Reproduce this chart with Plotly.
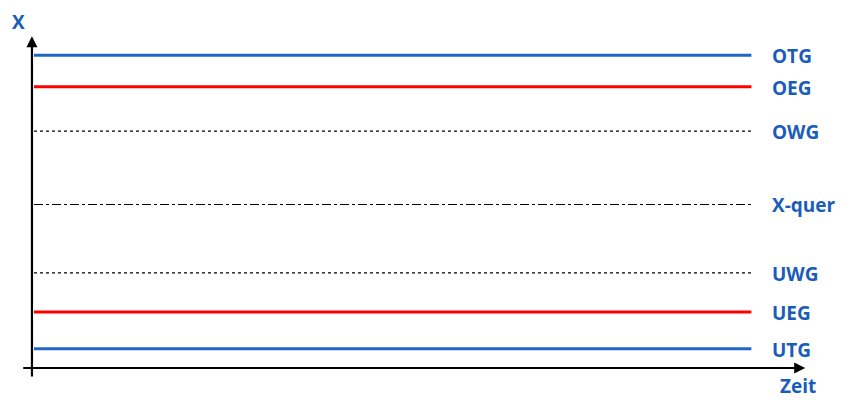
import plotly.graph_objects as go

# Data
labels = ["OTG", "OEG", "OWG", "X-quer", "UWG", "UEG", "UTG"]
levels = [94.8, 85.2, 71.8, 49.55, 28.8, 17, 5.8]
time_span = [0, 100]

styles = {
    "OTG": dict(color="#1F66C8", width=3, dash="solid"),
    "OEG": dict(color="#FF0000", width=3, dash="solid"),
    "OWG": dict(color="#000000", width=1.2, dash="dot"),
    "X-quer": dict(color="#000000", width=1.2, dash="dashdot"),
    "UWG": dict(color="#000000", width=1.2, dash="dot"),
    "UEG": dict(color="#FF0000", width=3, dash="solid"),
    "UTG": dict(color="#1F66C8", width=3, dash="solid"),
}

text_blue = "#1A5DB8"
font_family = "Open Sans, Liberation Sans, Arial, sans-serif"

fig = go.Figure()
for lab, lv in zip(labels, levels):
    fig.add_trace(go.Scatter(x=time_span, y=[lv, lv], mode="lines",
                             line=styles[lab], showlegend=False, hoverinfo="skip"))

annotations = []
for lab, lv in zip(labels, levels):
    annotations.append(dict(x=102.6, y=lv, xref="x", yref="y", text=f"<b>{lab}</b>",
                            showarrow=False, xanchor="left", yanchor="middle", yshift=-1,
                            font=dict(size=19, color=text_blue, family=font_family)))

# axes as arrows
annotations.append(dict(x=-0.28, y=100.5, ax=-0.28, ay=-3, xref="x", yref="y", axref="x", ayref="y",
                        showarrow=True, arrowhead=2, arrowsize=1, arrowwidth=2.2, arrowcolor="black", text=""))
annotations.append(dict(x=107.5, y=0, ax=-1.7, ay=0, xref="x", yref="y", axref="x", ayref="y",
                        showarrow=True, arrowhead=2, arrowsize=1, arrowwidth=2.2, arrowcolor="black", text=""))
# axis titles
annotations.append(dict(x=-2.2, y=104.8, xref="x", yref="y", text="<b>X</b>", showarrow=False,
                        font=dict(size=19, color=text_blue, family=font_family)))
annotations.append(dict(x=106.5, y=-5.5, xref="x", yref="y", text="<b>Zeit</b>", showarrow=False,
                        font=dict(size=19, color=text_blue, family=font_family)))

fig.update_layout(
    width=851, height=414,
    margin=dict(l=0, r=0, t=0, b=0),
    paper_bgcolor="white", plot_bgcolor="white",
    xaxis=dict(range=[-3.62, 115.0], visible=False, fixedrange=True),
    yaxis=dict(range=[-16.36, 109.09], visible=False, fixedrange=True),
    annotations=annotations,
)

fig.write_html("out.html")
